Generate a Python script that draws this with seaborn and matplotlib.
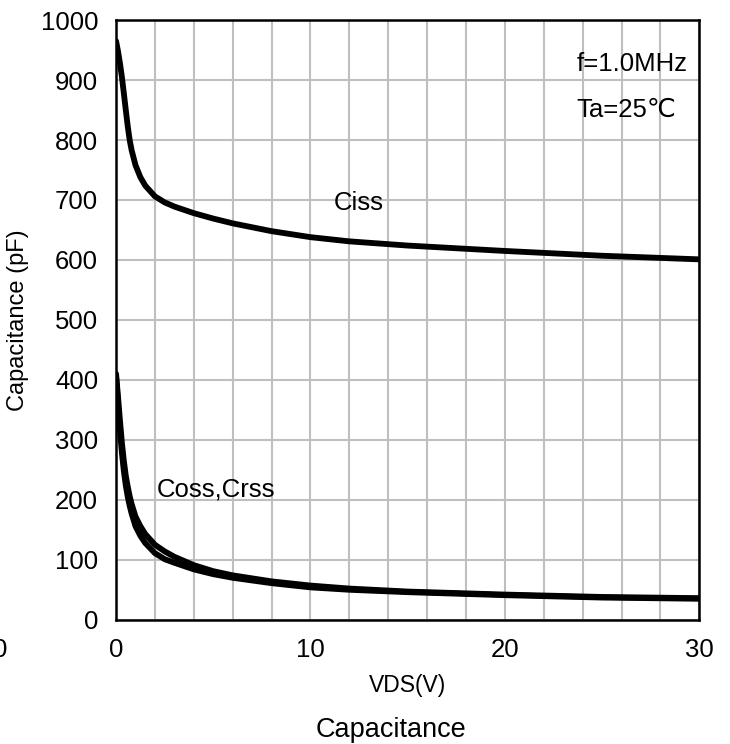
import seaborn as sns
import matplotlib.pyplot as plt
import pandas as pd

# values
vds = [0, 0.1, 0.2, 0.3, 0.4, 0.5, 0.6, 0.7, 0.8, 1.0, 1.25, 1.5, 2, 2.5, 3, 4, 5, 6, 8, 10, 12, 15, 20, 25, 30]
ciss = [965, 948, 928, 905, 878, 850, 823, 800, 783, 758, 738, 724, 706, 696, 689, 678, 669, 661, 648, 638, 631, 624, 615, 607, 601]
coss = [410, 372, 332, 295, 265, 240, 222, 206, 193, 172, 156, 143, 125, 114, 105, 91, 81, 74, 64, 57, 52, 47, 42, 38, 36]
crss = [405, 360, 315, 278, 248, 224, 205, 190, 177, 156, 140, 128, 111, 101, 95, 84, 76, 70, 61, 54, 50, 46, 41, 37, 35]

df = pd.DataFrame({'VDS': vds * 3,
                   'C': ciss + coss + crss,
                   'curve': ['Ciss'] * len(vds) + ['Coss'] * len(vds) + ['Crss'] * len(vds)})

sns.set_style('white')
plt.rcParams['font.family'] = ['Liberation Sans', 'DejaVu Sans']
plt.rcParams['text.color'] = 'black'
plt.rcParams['axes.labelcolor'] = 'black'
plt.rcParams['xtick.color'] = 'black'
plt.rcParams['ytick.color'] = 'black'

fig = plt.figure(figsize=(7.3, 7.44), dpi=100)
ax = fig.add_axes([0.159, 0.167, 0.799, 0.806])

sns.lineplot(data=df, x='VDS', y='C', units='curve', estimator=None,
             color='black', lw=4.2, ax=ax, zorder=3)

ax.set_xlim(0, 30)
ax.set_ylim(0, 1000)
ax.set_xticks(range(0, 31, 10))
ax.set_xticks(range(0, 31, 2), minor=True)
ax.set_yticks(range(0, 1001, 100))
ax.grid(True, which='both', axis='x', color='#bfbfbf', lw=1.5)
ax.grid(True, which='major', axis='y', color='#bfbfbf', lw=1.5)
ax.tick_params(which='both', length=0, labelsize=18.5, pad=13)
for s in ax.spines.values():
    s.set_color('black')
    s.set_linewidth(1.8)
    s.set_zorder(4)

ax.set_xlabel('VDS(V)', fontsize=16.5, labelpad=9)
ax.set_ylabel('Capacitance (pF)', fontsize=17, labelpad=8)

ax.text(12.5, 695, 'Ciss', fontsize=18.5, ha='center', va='center')
ax.text(2.1, 217, 'Coss,Crss', fontsize=18.5, ha='left', va='center')
ax.text(29.4, 927, 'f=1.0MHz', fontsize=18.5, ha='right', va='center')
ax.text(28.8, 850, 'Ta=25℃', fontsize=18.5, ha='right', va='center')

fig.text(0.0, 1 - 650 / 744, '0', fontsize=18.5, ha='center', va='center')
fig.text(0.535, 1 - 730 / 744, 'Capacitance', fontsize=19.5, ha='center', va='center')

fig.savefig('out.png', dpi=100, facecolor='white')
